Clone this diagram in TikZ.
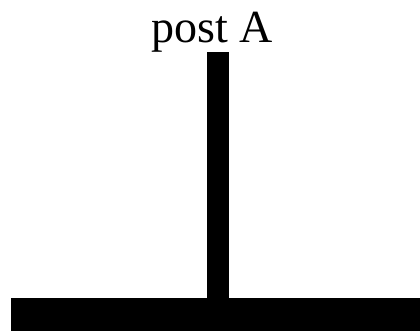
\documentclass[tikz,border=0pt]{standalone}
\usepackage{fontspec}
\setmainfont{Liberation Serif}
\begin{document}
\begin{tikzpicture}[x=1pt,y=1pt,
  solidpart/.style={fill=black,draw=none}]
\useasboundingbox (0,0) rectangle (420,331);
\fill[white] (0,0) rectangle (420,331);
\node[anchor=base,inner sep=0pt,font=\fontsize{46}{50}\selectfont] (label) at (212,288.3) {post A};
\path[solidpart] (207.3,33.3) rectangle (228.7,279.3);
\path[solidpart] (11.3,0) rectangle (420,33.3);
\end{tikzpicture}
\end{document}
